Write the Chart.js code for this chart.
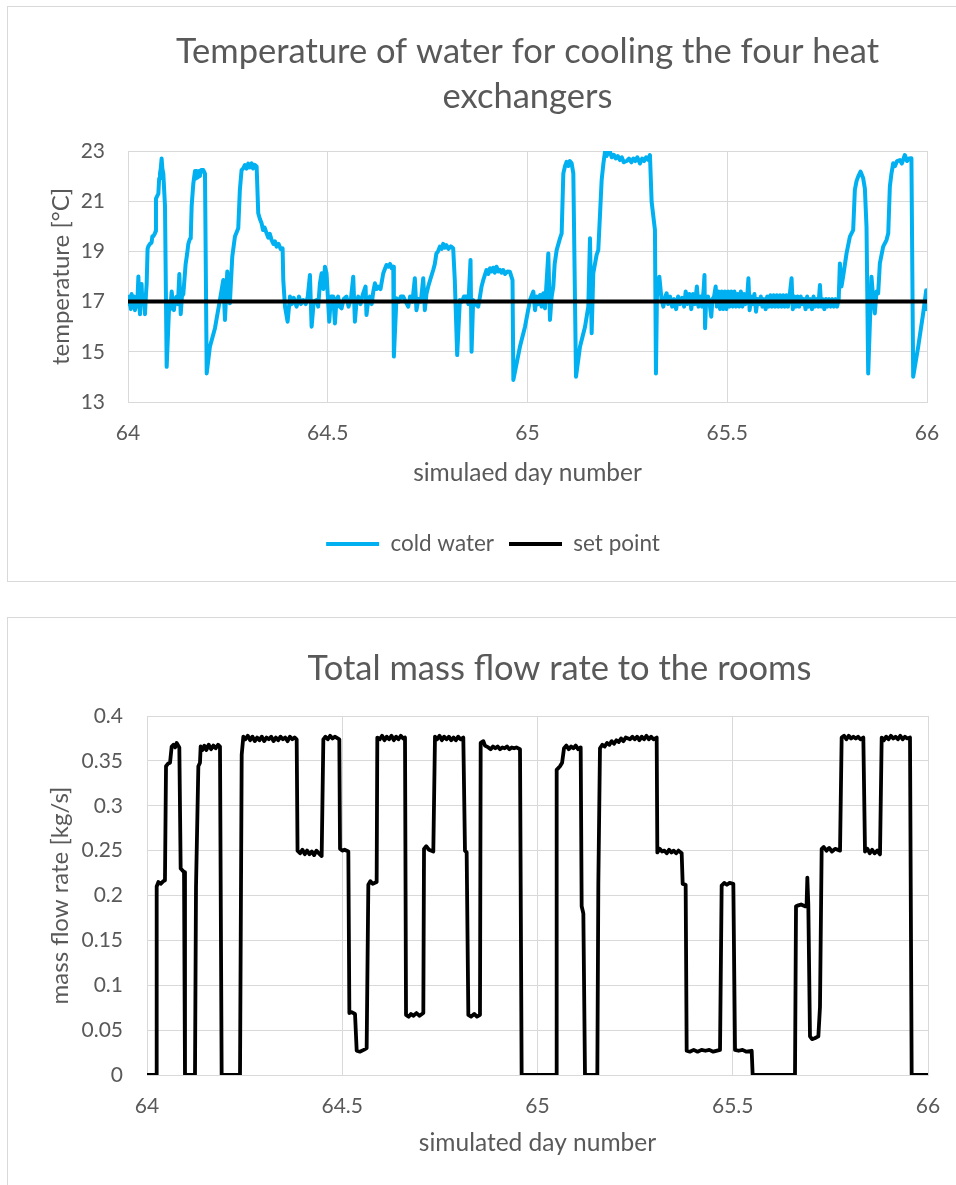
<!DOCTYPE html>
<html><head><meta charset="utf-8">
<script src="https://cdn.jsdelivr.net/npm/chart.js@4/dist/chart.umd.min.js"></script>
<style>
html,body{margin:0;padding:0;background:#fff;overflow:hidden;width:956px;height:1185px;}
.box{position:absolute;border:1px solid #d9d9d9;background:#fff;overflow:hidden}
#box1{left:7px;top:6px;width:1100px;height:574px}
#box2{left:7px;top:617px;width:1200px;height:700px}
canvas{display:block}
</style></head><body>
<div class="box" id="box1"><canvas id="c1" width="970" height="574"></canvas></div>
<div class="box" id="box2"><canvas id="c2" width="1103" height="600"></canvas></div>
<script>
// ---------- data ----------
const topTitle = ["Temperature of water for cooling the four heat", "exchangers"];
const bottomTitle = "Total mass flow rate to the rooms";
const seriesNames = ["cold water", "set point"];
const dayTicks = [64, 64.5, 65, 65.5, 66];
const dayLabels = ["64", "64.5", "65", "65.5", "66"];
const tempTicks = [13, 15, 17, 19, 21, 23];
const tempLabels = ["13", "15", "17", "19", "21", "23"];
const flowTicks = [0, 0.05, 0.1, 0.15, 0.2, 0.25, 0.3, 0.35, 0.4];
const flowLabels = ["0", "0.05", "0.1", "0.15", "0.2", "0.25", "0.3", "0.35", "0.4"];

// cold water temperature [day, °C]
const coldWater = [
[64.000,16.9],[64.004,17.2],[64.007,16.7],[64.009,17.3],[64.012,16.8],[64.015,17.2],[64.0175,16.66],[64.020,17.1],[64.023,16.8],[64.026,18.0],[64.028,16.9],[64.030,16.5],[64.032,17.4],[64.034,17.7],[64.036,16.9],[64.039,17.2],[64.0425,16.5],[64.045,17.3],[64.0467,17.7],[64.049,19.1],[64.051,19.2],[64.055,19.3],[64.059,19.35],[64.061,19.6],[64.0634,19.6],[64.067,19.7],[64.069,19.8],[64.070,21.1],[64.073,21.2],[64.076,21.3],[64.078,21.9],[64.080,22.1],[64.082,22.3],[64.0842,22.7],[64.086,22.3],[64.0884,22.1],[64.0926,20.8],[64.0968,14.4],[64.1034,17.0],[64.106,16.7],[64.1093,17.4],[64.112,17.0],[64.115,16.66],[64.118,17.1],[64.122,17.2],[64.125,16.9],[64.1285,18.1],[64.132,16.5],[64.135,17.2],[64.1385,17.3],[64.1443,18.5],[64.148,18.9],[64.151,19.3],[64.155,19.5],[64.157,19.52],[64.1593,20.8],[64.1635,21.7],[64.1677,22.2],[64.170,21.9],[64.172,22.2],[64.175,21.95],[64.178,22.2],[64.180,22.0],[64.183,22.24],[64.1885,22.24],[64.1927,22.1],[64.197,14.14],
[64.205,15.2],[64.2177,15.94],[64.230,17.06],[64.2385,17.86],[64.2427,16.27],[64.2485,18.2],[64.255,16.93],[64.261,18.79],[64.2677,19.59],[64.276,19.92],[64.280,21.45],[64.2843,22.24],[64.288,22.3],[64.2927,22.44],[64.297,22.3],[64.301,22.5],[64.305,22.35],[64.3094,22.51],[64.313,22.3],[64.317,22.45],[64.322,22.38],[64.326,20.52],[64.330,20.3],[64.3344,20.12],[64.338,19.85],[64.342,19.95],[64.347,19.72],[64.351,19.55],[64.355,19.7],[64.3595,19.45],[64.364,19.3],[64.368,19.4],[64.372,19.19],[64.377,19.3],[64.382,19.1],[64.387,19.12],[64.3887,17.86],[64.393,16.8],[64.3995,16.2],[64.4054,17.2],[64.41,16.9],[64.415,17.15],[64.422,16.8],[64.428,17.2],[64.433,16.9],[64.4387,17.06],[64.445,16.9],[64.450,17.2],[64.4554,18.06],[64.4596,16.0],[64.465,17.0],[64.472,17.06],[64.476,16.8],[64.4804,17.73],[64.4846,18.13],[64.489,17.5],[64.493,18.39],[64.497,18.13],[64.5037,16.2],[64.508,17.2],[64.5137,17.2],[64.518,16.13],[64.522,17.1],[64.526,17.2],[64.530,16.8],[64.5346,16.73],[64.540,17.1],[64.547,17.2],[64.552,16.8],[64.558,17.1],[64.5638,17.99],[64.568,16.2],[64.572,17.0],[64.5763,17.2],[64.582,16.9],[64.588,17.3],[64.5947,17.6],[64.597,16.47],[64.601,17.0],[64.6055,17.2],[64.610,16.9],[64.614,17.4],[64.618,17.73],[64.622,17.5],[64.6263,17.6],[64.632,17.5],[64.639,18.13],[64.643,18.3],[64.647,18.46],[64.652,18.39],[64.656,18.5],[64.660,18.33],[64.664,18.39],[64.6655,14.81],[64.672,17.13],[64.678,17.0],[64.683,17.2],[64.689,17.2],[64.695,17.0],[64.7014,16.8],[64.706,17.2],[64.712,17.0],[64.718,17.93],[64.722,16.66],[64.727,17.1],[64.733,17.0],[64.739,17.93],[64.743,16.66],[64.747,17.3],[64.7515,17.6],[64.757,17.9],[64.764,18.26],[64.768,18.5],[64.772,18.92],[64.776,19.0],[64.7806,19.19],[64.785,19.1],[64.789,19.3],[64.793,19.15],[64.797,19.25],[64.802,19.1],[64.808,19.2],[64.814,19.12],[64.818,17.86],[64.824,14.87],[64.8307,17.06],[64.836,17.0],[64.841,17.2],[64.8474,17.2],[64.852,16.9],[64.8574,18.66],[64.860,15.0],[64.864,17.06],[64.870,16.9],[64.8766,16.8],[64.881,17.2],[64.885,17.6],[64.890,17.9],[64.8974,18.26],[64.902,18.1],[64.906,18.33],[64.910,18.2],[64.914,18.35],[64.918,18.15],[64.9225,18.39],[64.927,18.2],[64.931,18.26],[64.935,18.15],[64.939,18.26],[64.944,18.1],[64.950,18.2],[64.9558,18.19],[64.9625,17.86],[64.9646,13.88],
[64.981,15.2],[64.9938,16.0],[65.0063,17.06],[65.0146,17.4],[65.0188,16.66],[65.023,17.2],[65.027,16.9],[65.0313,17.26],[65.035,16.8],[65.0396,17.33],[65.0438,16.73],[65.0521,18.92],[65.0563,16.27],[65.0605,17.2],[65.0646,17.6],[65.068,18.5],[65.073,19.05],[65.0813,19.52],[65.0855,19.72],[65.0897,22.11],[65.094,22.4],[65.098,22.57],[65.102,22.4],[65.106,22.6],[65.1105,22.51],[65.1147,22.11],[65.1214,14.01],[65.1314,15.2],[65.144,16.0],[65.1522,16.8],[65.1564,19.52],[65.1606,15.74],[65.1647,18.13],[65.173,18.86],[65.1772,19.05],[65.1856,21.84],[65.190,22.5],[65.194,22.97],[65.198,22.8],[65.202,22.95],[65.2064,22.97],[65.211,22.75],[65.216,22.85],[65.221,22.7],[65.226,22.8],[65.2314,22.64],[65.236,22.75],[65.241,22.55],[65.2481,22.6],[65.254,22.7],[65.26,22.55],[65.265,22.7],[65.27,22.6],[65.275,22.75],[65.2815,22.5],[65.287,22.7],[65.292,22.6],[65.297,22.75],[65.302,22.65],[65.3065,22.84],[65.3107,20.98],[65.319,19.85],[65.3215,14.14],[65.324,17.2],[65.33,17.99],[65.3357,17.06],
[65.340,16.8],[65.345,17.2],[65.3482,17.33],[65.352,16.9],[65.357,17.2],[65.362,16.8],[65.367,17.1],[65.372,16.7],[65.377,17.2],[65.382,16.9],[65.387,17.15],[65.392,16.8],[65.396,17.4],[65.400,16.9],[65.405,17.3],[65.410,16.7],[65.414,17.3],[65.419,16.9],[65.424,17.6],[65.428,16.8],[65.433,17.2],[65.437,16.8],[65.441,17.5],[65.443,18.06],[65.4445,15.94],[65.447,17.0],[65.452,17.2],[65.456,16.9],[65.460,16.4],[65.463,17.1],[65.467,17.2],[65.471,17.6],[65.474,16.8],[65.478,17.4],[65.482,16.7],[65.486,17.4],[65.490,16.7],[65.494,17.4],[65.498,16.7],[65.502,17.4],[65.506,16.8],[65.510,17.4],[65.514,16.8],[65.518,17.4],[65.522,16.8],[65.526,17.3],[65.530,16.8],[65.534,17.4],[65.538,16.8],[65.542,17.3],[65.546,16.9],[65.550,17.2],[65.553,17.93],[65.556,16.66],[65.560,17.2],[65.564,16.9],[65.568,17.3],[65.572,16.6],[65.576,17.1],[65.580,16.9],[65.584,17.2],[65.588,16.8],[65.592,17.1],[65.596,16.7],[65.600,17.2],[65.604,16.8],[65.608,17.25],[65.612,16.8],[65.616,17.25],[65.620,16.8],[65.624,17.25],[65.628,16.8],[65.632,17.25],[65.636,16.8],[65.640,17.25],[65.644,16.8],[65.648,17.25],[65.652,16.8],[65.656,17.2],[65.661,17.93],[65.664,16.7],[65.668,17.2],[65.672,16.8],[65.676,17.2],[65.680,16.8],[65.684,17.2],[65.688,16.9],[65.692,17.1],[65.696,16.7],[65.700,17.2],[65.704,16.8],[65.708,17.1],[65.712,16.7],[65.716,17.2],[65.720,16.8],[65.724,17.1],[65.728,16.8],[65.732,17.66],[65.735,16.8],[65.739,17.1],[65.743,16.7],[65.747,17.1],[65.751,16.8],[65.755,17.1],[65.759,16.8],[65.763,17.1],[65.767,16.8],[65.771,17.1],[65.775,16.8],[65.779,17.1],
[65.7819,18.52],[65.786,17.6],[65.790,17.99],[65.7986,18.92],[65.807,19.59],[65.8152,19.85],[65.8194,21.45],[65.8236,21.8],[65.8277,21.98],[65.8336,22.18],[65.8403,21.91],[65.8445,21.5],[65.8486,19.98],[65.8528,14.14],[65.861,17.99],[65.865,17.2],[65.8694,16.53],[65.8736,17.4],[65.8778,17.33],[65.882,18.52],[65.8903,19.19],[65.8986,19.45],[65.903,19.72],[65.907,21.58],[65.911,22.1],[65.9153,22.51],[65.92,22.4],[65.925,22.6],[65.932,22.64],[65.937,22.5],[65.9445,22.84],[65.95,22.6],[65.955,22.7],[65.961,22.71],[65.9654,14.01],[65.978,15.2],[65.9904,16.53],[65.998,17.45],[66.0,16.7]
];

// set point [day, °C]
const setPoint = [[64, 17], [66, 17]];

// total mass flow rate [day, kg/s]
const massFlow = [
[64.000,0],[64.0231,0],[64.0248,0.21],[64.029,0.215],[64.035,0.213],[64.042,0.216],[64.046,0.217],[64.0487,0.344],[64.054,0.347],[64.059,0.348],[64.0632,0.366],[64.068,0.368],[64.072,0.365],[64.076,0.37],[64.0828,0.365],[64.0862,0.23],[64.0948,0.226],[64.0973,0],[64.1229,0],[64.1255,0.21],[64.1315,0.344],[64.1357,0.348],[64.1374,0.366],[64.142,0.362],[64.147,0.367],[64.152,0.362],[64.158,0.368],[64.164,0.363],[64.170,0.367],[64.176,0.364],[64.182,0.368],[64.1869,0.366],[64.1912,0],[64.2382,0],[64.2425,0.357],[64.2467,0.377],[64.252,0.374],[64.258,0.378],[64.264,0.373],[64.270,0.377],[64.276,0.372],[64.282,0.376],[64.288,0.373],[64.294,0.377],[64.300,0.372],[64.306,0.376],[64.312,0.374],[64.318,0.377],[64.324,0.372],[64.330,0.376],[64.336,0.373],[64.342,0.377],[64.348,0.374],[64.354,0.376],[64.360,0.372],[64.366,0.377],[64.372,0.374],[64.378,0.376],[64.3833,0.374],[64.3855,0.25],[64.392,0.247],[64.398,0.251],[64.404,0.246],[64.410,0.25],[64.416,0.246],[64.422,0.249],[64.428,0.245],[64.434,0.25],[64.440,0.247],[64.4473,0.244],[64.4516,0.374],[64.457,0.377],[64.463,0.374],[64.469,0.378],[64.475,0.375],[64.481,0.377],[64.4925,0.374],[64.4943,0.252],[64.500,0.25],[64.506,0.251],[64.5156,0.249],[64.5182,0.069],[64.524,0.07],[64.5327,0.068],[64.537,0.027],[64.545,0.026],[64.555,0.028],[64.5625,0.03],[64.5668,0.212],[64.572,0.216],[64.578,0.213],[64.5881,0.215],[64.5898,0.376],[64.596,0.374],[64.602,0.378],[64.608,0.373],[64.614,0.377],[64.620,0.374],[64.626,0.378],[64.632,0.373],[64.638,0.377],[64.644,0.374],[64.650,0.378],[64.656,0.375],[64.6607,0.376],[64.6633,0.067],[64.670,0.065],[64.676,0.068],[64.682,0.066],[64.690,0.069],[64.698,0.066],[64.7076,0.069],[64.7094,0.252],[64.715,0.255],[64.722,0.251],[64.7332,0.249],[64.7375,0.377],[64.743,0.374],[64.749,0.378],[64.755,0.373],[64.761,0.377],[64.767,0.374],[64.773,0.377],[64.779,0.373],[64.785,0.376],[64.791,0.373],[64.797,0.377],[64.803,0.374],[64.81,0.376],[64.8143,0.25],[64.8186,0.248],[64.8229,0.067],[64.830,0.065],[64.838,0.068],[64.845,0.065],[64.8527,0.067],[64.8545,0.37],[64.8613,0.372],[64.8655,0.367],[64.8741,0.365],[64.880,0.363],[64.886,0.366],[64.892,0.364],[64.898,0.366],[64.904,0.363],[64.910,0.365],[64.916,0.364],[64.922,0.366],[64.928,0.363],[64.934,0.365],[64.940,0.364],[64.946,0.365],[64.9552,0.363],[64.9594,0],
[65.0474,0],[65.0491,0.34],[65.0576,0.344],[65.063,0.348],[65.0679,0.364],[65.074,0.367],[65.080,0.363],[65.086,0.366],[65.092,0.364],[65.098,0.367],[65.104,0.363],[65.1106,0.365],[65.1131,0.188],[65.1174,0.18],[65.1216,0],[65.1532,0],[65.1558,0.214],[65.160,0.364],[65.166,0.368],[65.172,0.366],[65.178,0.37],[65.184,0.368],[65.190,0.372],[65.196,0.369],[65.202,0.373],[65.208,0.371],[65.214,0.375],[65.220,0.372],[65.226,0.376],[65.2369,0.374],[65.243,0.377],[65.249,0.374],[65.255,0.377],[65.261,0.373],[65.267,0.377],[65.273,0.374],[65.279,0.378],[65.285,0.374],[65.291,0.377],[65.297,0.374],[65.3052,0.376],[65.3069,0.248],[65.313,0.252],[65.319,0.249],[65.325,0.25],[65.331,0.247],[65.337,0.251],[65.343,0.248],[65.349,0.25],[65.355,0.247],[65.361,0.25],[65.3692,0.247],[65.3718,0.213],[65.3794,0.212],[65.382,0.027],[65.39,0.026],[65.40,0.028],[65.41,0.026],[65.42,0.028],[65.43,0.027],[65.44,0.028],[65.45,0.026],[65.4674,0.028],[65.4716,0.211],[65.478,0.214],[65.485,0.212],[65.492,0.214],[65.5015,0.213],[65.5058,0.028],[65.515,0.027],[65.525,0.028],[65.535,0.026],[65.5485,0.027],[65.551,0],[65.6594,0],[65.662,0.188],[65.668,0.189],[65.675,0.19],[65.685,0.188],[65.689,0.188],[65.691,0.22],[65.6935,0.19],[65.6978,0.043],[65.703,0.04],[65.710,0.041],[65.7192,0.043],[65.7234,0.076],[65.7277,0.252],[65.733,0.254],[65.740,0.25],[65.747,0.253],[65.754,0.249],[65.762,0.252],[65.7747,0.25],[65.7789,0.376],[65.785,0.378],[65.791,0.374],[65.797,0.378],[65.803,0.375],[65.809,0.377],[65.815,0.375],[65.821,0.377],[65.827,0.374],[65.8344,0.376],[65.8387,0.249],[65.845,0.252],[65.851,0.247],[65.857,0.251],[65.863,0.247],[65.870,0.25],[65.8771,0.246],[65.8814,0.376],[65.887,0.373],[65.893,0.377],[65.899,0.374],[65.905,0.378],[65.911,0.375],[65.917,0.377],[65.923,0.374],[65.929,0.378],[65.935,0.374],[65.941,0.377],[65.947,0.375],[65.9539,0.376],[65.9582,0],[66.0,0]
];

// ---------- styling ----------
const TXT = '#595959', GRID = '#d9d9d9', FONT = 'Lato';
Chart.defaults.font.family = FONT;
Chart.defaults.color = TXT;

const toXY = arr => arr.map(p => ({x: p[0], y: p[1]}));
function fixedTicks(values) { return s => { s.ticks = values.map(v => ({value: v})); }; }
function fixW(w) { return s => { s.width = w; }; }
function fixH(h) { return s => { s.height = h; }; }

function xScale(height, titleText, titlePadBottom, tickPad) {
  return {
    type: 'linear', min: 64, max: 66,
    afterBuildTicks: fixedTicks(dayTicks), afterFit: fixH(height),
    grid: {color: GRID, lineWidth: 1, drawTicks: false},
    border: {color: GRID, width: 1},
    ticks: {padding: tickPad, font: {size: 21}, color: TXT, maxRotation: 0,
            callback: v => dayLabels[dayTicks.indexOf(v)]},
    title: {display: true, text: titleText, font: {size: 24.5}, color: TXT, padding: {top: 0, bottom: titlePadBottom}}
  };
}
function rightPad(w) {
  return { position: 'right', display: true, afterFit: fixW(w),
           grid: {display: false}, border: {display: false}, ticks: {display: false} };
}

// ---------- chart 1 ----------
new Chart(document.getElementById('c1'), {
  type: 'line',
  data: { datasets: [
    { label: seriesNames[0], data: toXY(coldWater), borderColor: '#00B0F0', backgroundColor: '#00B0F0',
      borderWidth: 4, pointRadius: 0, tension: 0, order: 1, borderJoinStyle: 'round', borderCapStyle: 'round' },
    { label: seriesNames[1], data: toXY(setPoint), borderColor: '#000000', backgroundColor: '#000000',
      borderWidth: 4, pointRadius: 0, tension: 0, order: 0 }
  ]},
  options: {
    responsive: false, animation: false, devicePixelRatio: 1,
    layout: { padding: {left: 0, right: 0, top: 0, bottom: 15.75} },
    plugins: {
      title: { display: true, text: topTitle, fullSize: false, color: TXT,
               font: {size: 34.5, weight: 'normal', lineHeight: 45 / 34.5}, padding: {top: 22.5, bottom: 31.5} },
      legend: { position: 'bottom', align: 'center',
                labels: { usePointStyle: true, pointStyle: 'line', pointStyleWidth: 53, padding: 15,
                          font: {size: 22.5}, color: TXT, sort: (a, b) => a.datasetIndex - b.datasetIndex } },
      tooltip: {enabled: false}
    },
    scales: {
      x: xScale(115.75, 'simulaed day number', 30, 19),
      y: {
        type: 'linear', min: 13, max: 23, afterBuildTicks: fixedTicks(tempTicks), afterFit: fixW(120),
        grid: {color: GRID, lineWidth: 1, drawTicks: false}, border: {color: GRID, width: 1},
        ticks: {padding: 23, font: {size: 21}, color: TXT, callback: v => tempLabels[tempTicks.indexOf(v)]},
        title: {display: true, text: 'temperature [°C]', font: {size: 24}, color: TXT, padding: {top: 38.6, bottom: 0}}
      },
      yR: rightPad(51)
    }
  }
});

// ---------- chart 2 ----------
new Chart(document.getElementById('c2'), {
  type: 'line',
  data: { datasets: [
    { label: 'mass flow', data: toXY(massFlow), borderColor: '#000000', backgroundColor: '#000000',
      borderWidth: 3.8, pointRadius: 0, tension: 0, borderJoinStyle: 'round' }
  ]},
  options: {
    responsive: false, animation: false, devicePixelRatio: 1,
    layout: { padding: {left: 0, right: 0, top: 0, bottom: 43} },
    plugins: {
      title: { display: true, text: bottomTitle, fullSize: true, color: TXT,
               font: {size: 34.5, weight: 'normal', lineHeight: 45 / 34.5}, padding: {top: 28.5, bottom: 24.5} },
      legend: {display: false},
      tooltip: {enabled: false}
    },
    scales: {
      x: xScale(100, 'simulated day number', 17.3, 19),
      y: {
        type: 'linear', min: 0, max: 0.4, afterBuildTicks: fixedTicks(flowTicks), afterFit: fixW(139),
        grid: {color: GRID, lineWidth: 1, drawTicks: false}, border: {color: GRID, width: 1},
        ticks: {padding: 24, font: {size: 21}, color: TXT, callback: v => flowLabels[flowTicks.indexOf(v)]},
        title: {display: true, text: 'mass flow rate [kg/s]', font: {size: 24}, color: TXT, padding: {top: 37.6, bottom: 0}}
      },
      yR: rightPad(183)
    }
  }
});
</script>
</body></html>
